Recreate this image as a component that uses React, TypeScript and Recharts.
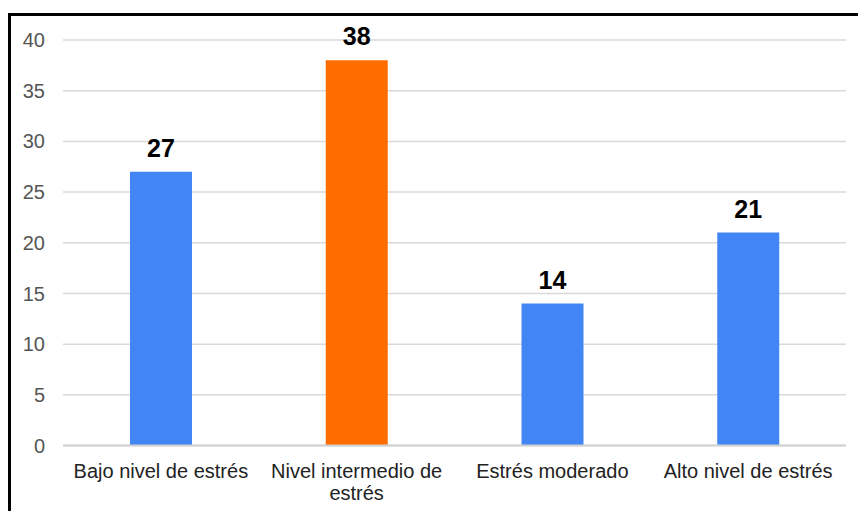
import React from "react";
import { BarChart, Bar, XAxis, YAxis, CartesianGrid, LabelList, Cell } from "recharts";

const categories = [
  "Bajo nivel de estrés",
  "Nivel intermedio de estrés",
  "Estrés moderado",
  "Alto nivel de estrés",
];
const counts = [27, 38, 14, 21];
const barColors = ["#4285F4", "#FF6D01", "#4285F4", "#4285F4"];
const yTicks = [0, 5, 10, 15, 20, 25, 30, 35, 40];

const data = categories.map((name, i) => ({ name, value: counts[i] }));

const FONT = "'Liberation Sans', Arial, sans-serif";
const MAX_LINE_CHARS = 20;

// Greedy word wrap for the category labels.
function wrapLabel(label: string): string[] {
  const lines: string[] = [];
  let current = "";
  for (const word of label.split(" ")) {
    const next = current ? current + " " + word : word;
    if (next.length > MAX_LINE_CHARS && current) {
      lines.push(current);
      current = word;
    } else {
      current = next;
    }
  }
  if (current) lines.push(current);
  return lines;
}

const CategoryTick = (props: any) => {
  const { x, y, payload } = props;
  const lines = wrapLabel(String(payload.value));
  return (
    <text
      x={x}
      y={y}
      textAnchor="middle"
      fontSize={20}
      fontFamily={FONT}
      fill="#222222"
    >
      {lines.map((line, i) => (
        <tspan key={i} x={x} dy={i === 0 ? 14.5 : 22}>
          {line}
        </tspan>
      ))}
    </text>
  );
};

export default function App() {
  return (
    <div style={{ position: "absolute", left: 0, top: 0, width: 858, height: 511, background: "#ffffff" }}>
      <div
        style={{
          position: "absolute",
          left: 8,
          top: 13,
          width: 860,
          height: 510,
          borderLeft: "3px solid #000",
          borderTop: "3px solid #000",
          boxSizing: "border-box",
        }}
      />
      <div style={{ position: "absolute", left: 0, top: 0 }}>
        <BarChart
          width={858}
          height={511}
          data={data}
          margin={{ top: 40, right: 12, bottom: 0, left: 8 }}
          barCategoryGap={67}
        >
          <CartesianGrid vertical={false} stroke="#d9d9d9" strokeWidth={1.5} />
          <XAxis
            dataKey="name"
            height={65.5}
            tickLine={false}
            axisLine={{ stroke: "#d0d0d0", strokeWidth: 2 }}
            tickSize={0}
            tickMargin={17.5}
            interval={0}
            tick={<CategoryTick />}
          />
          <YAxis
            width={55}
            domain={[0, 40]}
            ticks={yTicks}
            axisLine={false}
            tickLine={false}
            tickSize={0}
            tickMargin={18}
            tick={{ fontSize: 20, fontFamily: FONT, fill: "#555555" }}
          />
          <Bar dataKey="value" barSize={62} isAnimationActive={false}>
            {data.map((d, i) => (
              <Cell key={d.name} fill={barColors[i]} />
            ))}
            <LabelList
              dataKey="value"
              position="top"
              offset={15}
              style={{ fontSize: 25, fontWeight: 700, fontFamily: FONT, fill: "#000000" }}
            />
          </Bar>
        </BarChart>
      </div>
    </div>
  );
}
